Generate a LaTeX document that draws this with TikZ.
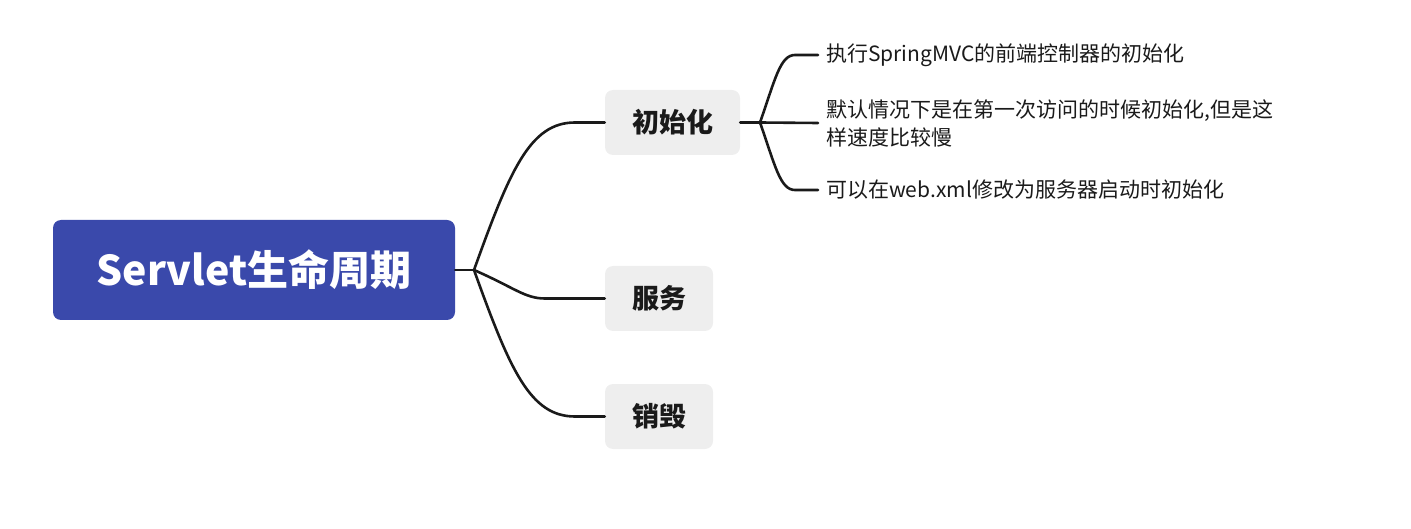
\documentclass[tikz,border=0pt]{standalone}
\usepackage{fontspec}
\setmainfont{Noto Sans CJK SC}
\usetikzlibrary{calc}
\definecolor{rootblue}{HTML}{3A49AB}
\definecolor{branchgray}{HTML}{EEEEEE}
\definecolor{linec}{HTML}{1A1A1A}
\begin{document}
\begin{tikzpicture}[x=1pt,y=-1pt,
  rootbox/.style={fill=rootblue,rounded corners=8pt,minimum width=402pt,minimum height=100pt,inner sep=0pt,text=white,font=\fontsize{41}{48}\selectfont\bfseries},
  branchbox/.style={fill=branchgray,rounded corners=8pt,minimum height=65pt,inner sep=0pt,text=linec,font=\fontsize{27}{32}\selectfont\bfseries},
  leaftext/.style={anchor=west,inner sep=0pt,text=linec,font=\fontsize{21}{28}\selectfont,align=left},
  conn/.style={draw=linec,line width=2.6pt,line cap=round}]
\useasboundingbox (0,0) rectangle (1411,529);
\node[rootbox] (root) at (254,270) {Servlet生命周期};
\node[branchbox,minimum width=135pt] (init) at (672.5,122.5) {初始化};
\node[branchbox,minimum width=108pt] (serv) at (659,298.5) {服务};
\node[branchbox,minimum width=108pt] (dest) at (659,416.5) {销毁};
\node[leaftext] (l1) at (826,55) {执行SpringMVC的前端控制器的初始化};
\node[leaftext] (l2) at (826,123) {默认情况下是在第一次访问的时候初始化,但是这\\样速度比较慢};
\node[leaftext] (l3) at (826,190) {可以在web.xml修改为服务器启动时初始化};
\coordinate (j) at (474,270);
\coordinate (k) at (760,122.5);
\draw[conn] (root.east) -- (j);
\draw[conn] (j) .. controls (510,170) and (530,122.5) .. (575,122.5) -- (init.west);
\draw[conn] (j) .. controls (515,288) and (525,298.5) .. (545,298.5) -- (serv.west);
\draw[conn] (j) .. controls (510,370) and (530,416.5) .. (575,416.5) -- (dest.west);
\draw[conn] (init.east) -- (k);
\draw[conn] (k) .. controls (775,80) and (780,55) .. (795,55) -- ($(l1.west)+(-8,0)$);
\draw[conn] (k) -- ($(l2.west)+(-8,0)$);
\draw[conn] (k) .. controls (775,165) and (780,190) .. (795,190) -- ($(l3.west)+(-8,0)$);
\end{tikzpicture}
\end{document}
